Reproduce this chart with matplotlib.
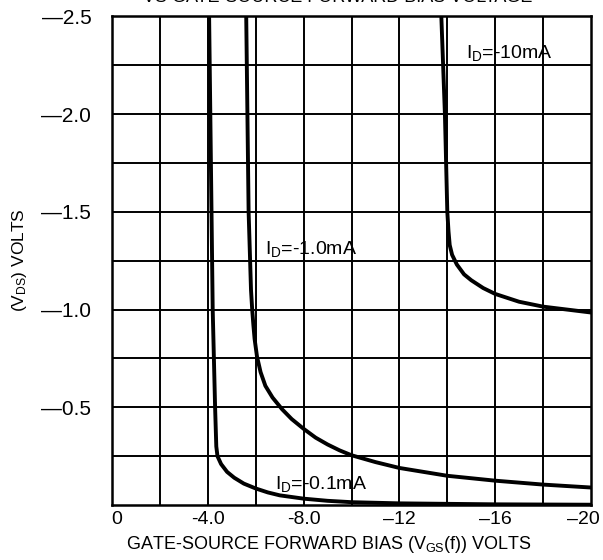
import matplotlib
matplotlib.use("Agg")
import matplotlib.pyplot as plt
from matplotlib.transforms import ScaledTranslation

plt.rcParams["font.family"] = ["Liberation Sans", "DejaVu Sans"]
plt.rcParams["mathtext.fontset"] = "custom"
plt.rcParams["mathtext.rm"] = "Liberation Sans"
plt.rcParams["mathtext.it"] = "Liberation Sans"

# curves (VGS(f) in volts, VDS in volts)
vgs_01ma = [-4.05, -4.1, -4.15, -4.2, -4.3, -4.35, -4.4, -4.55, -4.8, -5.1,
            -5.5, -6.0, -6.5, -7.0, -8.0, -9.0, -10.0, -12.0, -16.0, -20.0]
vds_01ma = [-2.5, -2.0, -1.5, -1.0, -0.5, -0.30, -0.25, -0.21, -0.17, -0.14,
            -0.11, -0.085, -0.065, -0.05, -0.033, -0.022, -0.015, -0.009, -0.004, -0.002]

vgs_1ma = [-5.6, -5.65, -5.7, -5.8, -5.85, -5.9, -5.95, -6.05, -6.2, -6.4,
           -6.7, -7.1, -7.5, -8.0, -8.5, -9.0, -9.5, -10.0, -11.0, -12.0,
           -13.0, -14.0, -16.0, -18.0, -20.0]
vds_1ma = [-2.5, -2.0, -1.5, -1.1, -1.0, -0.92, -0.85, -0.76, -0.68, -0.61,
           -0.55, -0.49, -0.44, -0.39, -0.345, -0.31, -0.28, -0.255, -0.22, -0.19,
           -0.17, -0.15, -0.125, -0.105, -0.09]

vgs_10ma = [-13.75, -13.9, -14.0, -14.05, -14.1, -14.2, -14.4, -14.7, -15.0,
            -15.5, -16.0, -16.5, -17.0, -18.0, -19.0, -20.0]
vds_10ma = [-2.5, -2.0, -1.5, -1.40, -1.33, -1.28, -1.23, -1.18, -1.15,
            -1.11, -1.08, -1.06, -1.04, -1.015, -1.0, -0.985]

x_ticks = [0, -4, -8, -12, -16, -20]
x_labels = ["0", "-4.0", "-8.0", "\u201312", "\u201316", "\u201320"]
y_ticks = [-2.5, -2.0, -1.5, -1.0, -0.5]
y_labels = ["\u20142.5", "\u20142.0", "\u20141.5", "\u20141.0", "\u20140.5"]


fig = plt.figure(figsize=(6.03, 5.6), dpi=100)
ax = fig.add_axes([0.186, 0.098, 0.794, 0.873])

ax.set_xlim(0, -20)
ax.set_ylim(0, -2.5)

for i in range(1, 10):
    ax.axvline(-2 * i, color="black", linewidth=1.4, zorder=1)
    ax.axhline(-0.25 * i, color="black", linewidth=1.4, zorder=1)

for xs, ys in [(vgs_01ma, vds_01ma), (vgs_1ma, vds_1ma), (vgs_10ma, vds_10ma)]:
    ax.plot(xs, ys, color="black", linewidth=2.8, solid_joinstyle="round", zorder=3)

ax.text(-14.8, -2.31, r"I$_{\rm D}$=-10mA", fontsize=14, va="center", ha="left")
ax.text(-6.4, -1.31, r"I$_{\rm D}$=-1.0mA", fontsize=14, va="center", ha="left")
ax.text(-6.8, -0.11, r"I$_{\rm D}$=-0.1mA", fontsize=14, va="center", ha="left")

for s in ax.spines.values():
    s.set_linewidth(1.8)

ax.set_xticks(x_ticks)
ax.set_xticklabels(x_labels, fontsize=14)
ax.set_yticks(y_ticks)
ax.set_yticklabels(y_labels, fontsize=15)
ax.tick_params(axis="both", length=0)
ax.tick_params(axis="x", pad=4)
ax.tick_params(axis="y", pad=15)

# nudge the end labels like the printed sheet
xl = ax.get_xticklabels()
xl[0].set_transform(xl[0].get_transform() + ScaledTranslation(5 / 100, 0, fig.dpi_scale_trans))
xl[-1].set_transform(xl[-1].get_transform() + ScaledTranslation(-8 / 100, 0, fig.dpi_scale_trans))

fig.text(0.545, 0.027, r"GATE-SOURCE FORWARD BIAS (V$_{\rm GS}$(f)) VOLTS",
         fontsize=13, ha="center", va="center")
fig.text(0.032, 0.535, r"(V$_{\rm DS}$) VOLTS", fontsize=12.5, rotation=90,
         ha="center", va="center")

fig.text(0.56, 1.005, "VS GATE-SOURCE FORWARD BIAS VOLTAGE", fontsize=13,
         ha="center", va="center")

fig.savefig("out.png", dpi=100)
